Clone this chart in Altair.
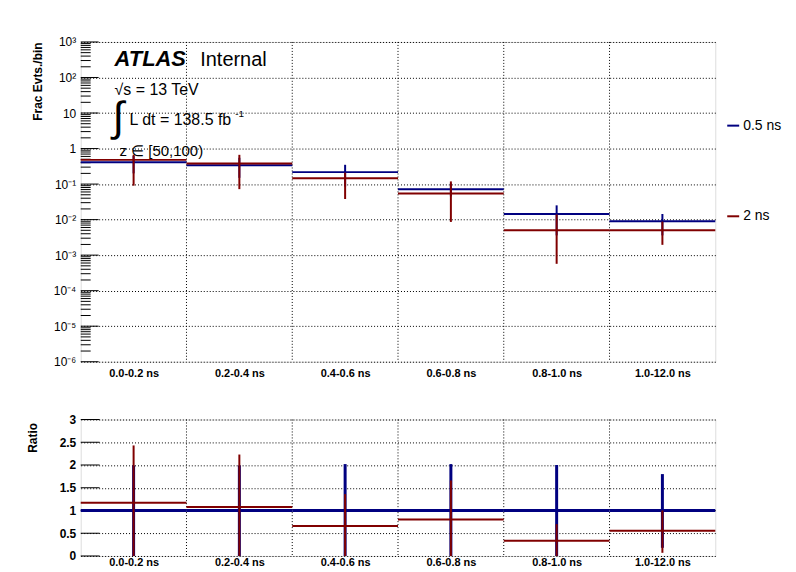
import json
import altair as alt
import pandas as pd

FONT = "Liberation Sans"

# ---------------- data ----------------
bins = ["0.0-0.2 ns", "0.2-0.4 ns", "0.4-0.6 ns", "0.6-0.8 ns", "0.8-1.0 ns", "1.0-12.0 ns"]
series_names = ["0.5 ns", "2 ns"]
series_colors = ["#000080", "#800000"]

blue_frac = [0.41, 0.34, 0.217, 0.072, 0.0144, 0.00898]
blue_frac_lo = [0.20, 0.15, 0.085, 0.045, 0.0036, 0.0036]
blue_frac_hi = [0.62, 0.55, 0.349, 0.105, 0.0252, 0.0144]
red_frac = [0.48, 0.38, 0.147, 0.0547, 0.00502, 0.00502]
red_frac_lo = [0.09, 0.072, 0.038, 0.0086, 0.00057, 0.00195]
red_frac_hi = [0.666, 0.666, 0.21, 0.119, 0.014, 0.0088]

blue_ratio = [1, 1, 1, 1, 1, 1]
blue_ratio_lo = [0, 0, 0, 0, 0, 0.18]
blue_ratio_hi = [1.99, 1.99, 2.02, 2.02, 2.0, 1.80]
red_ratio = [1.17, 1.075, 0.66, 0.80, 0.336, 0.555]
red_ratio_lo = [0, 0, 0, 0, 0, 0.07]
red_ratio_hi = [2.43, 2.23, 1.36, 1.66, 0.70, 1.0]

y_exponents = [-6, -5, -4, -3, -2, -1, 0, 1, 2, 3]
y_tick_labels = ["10⁻⁶", "10⁻⁵", "10⁻⁴", "10⁻³", "10⁻²", "10⁻¹", "1", "10", "10²", "10³"]
minor_mult = [2, 3, 4, 5, 6, 7, 8, 9]
ratio_ticks = [0, 0.5, 1, 1.5, 2, 2.5, 3]
ratio_tick_labels = ["0", "0.5", "1", "1.5", "2", "2.5", "3"]

n = len(bins)
centers = [i + 0.5 for i in range(n)]
edges = list(range(1, n))


def frame(vals, lo, hi, name):
    return pd.DataFrame({
        "x0": list(range(n)), "x1": list(range(1, n + 1)), "xc": centers,
        "val": vals, "lo": lo, "hi": hi, "series": name,
    })


top_blue = frame(blue_frac, blue_frac_lo, blue_frac_hi, series_names[0])
top_red = frame(red_frac, red_frac_lo, red_frac_hi, series_names[1])
rat_blue = frame(blue_ratio, blue_ratio_lo, blue_ratio_hi, series_names[0])
rat_red = frame(red_ratio, red_ratio_lo, red_ratio_hi, series_names[1])

edges_df = pd.DataFrame({"e": edges})
major_df = pd.DataFrame({"v": [10.0 ** e for e in y_exponents]})
minor_df = pd.DataFrame({"v": [m * 10.0 ** e for e in y_exponents[:-1] for m in minor_mult]})
ratio_tick_df = pd.DataFrame({"v": ratio_ticks})
one = pd.DataFrame({"a": [0]})

W = 637
H_TOP = 321
H_BOT = 137

# ---------------- scales / axes ----------------
x_scale = alt.Scale(domain=[0, n], nice=False, zero=False)
x_label_expr = json.dumps(bins) + "[floor(datum.value)]"


def x_axis(pad):
    return alt.Axis(values=centers, labelExpr=x_label_expr, ticks=False, domain=False,
                    grid=False, labelFont=FONT, labelFontSize=11, labelFontWeight="bold",
                    labelColor="black", labelPadding=pad, labelOverlap=False,
                    labelFlush=False, title=None)


x_axis_top = x_axis(6)
x_axis_bot = x_axis(1)

y_scale_top = alt.Scale(type="log", domain=[1e-6, 1e3], nice=False)
y_axis_top = alt.Axis(values=[10.0 ** e for e in y_exponents],
                      labelExpr=json.dumps(y_tick_labels, ensure_ascii=False)
                      + "[round(log(datum.value)/LN10)+6]",
                      labelOverlap=False, labelFlush=False, ticks=False, domain=False,
                      grid=True, gridColor="black", gridDash=[1, 2], gridOpacity=1,
                      labelFont=FONT, labelFontSize=12, labelColor="black", labelPadding=5,
                      title="Frac Evts./bin", titleFont=FONT, titleFontSize=12,
                      titleFontWeight="bold", titleColor="black", titleX=-36, titleY=0,
                      titleAlign="right", titleBaseline="bottom", titleAngle=270)

y_scale_bot = alt.Scale(domain=[0, 3], nice=False, zero=False)
y_axis_bot = alt.Axis(values=ratio_ticks,
                      labelExpr=json.dumps(ratio_tick_labels) + "[round(datum.value*2)]",
                      labelOverlap=False, labelFlush=False, ticks=False, domain=False,
                      grid=True, gridColor="black", gridDash=[1, 2], gridOpacity=1,
                      labelFont=FONT, labelFontSize=12, labelFontWeight="bold",
                      labelColor="black", labelPadding=5,
                      title="Ratio", titleFont=FONT, titleFontSize=12,
                      titleFontWeight="bold", titleColor="black", titleX=-41, titleY=3,
                      titleAlign="right", titleBaseline="bottom", titleAngle=270)

legend = alt.Legend(orient="none", legendX=648, legendY=77, title=None,
                    symbolType="stroke", symbolSize=144, symbolStrokeWidth=2,
                    labelFont=FONT, labelFontSize=14, labelColor="black",
                    labelOffset=3, rowPadding=77, padding=0)
color_enc = alt.Color("series:N", scale=alt.Scale(domain=series_names, range=series_colors),
                      legend=legend)


def XT(f):
    return alt.X(f, scale=x_scale, axis=x_axis_top, title=None)


def XB(f):
    return alt.X(f, scale=x_scale, axis=x_axis_bot, title=None)


def YT(f):
    return alt.Y(f, scale=y_scale_top, axis=y_axis_top, title="Frac Evts./bin")


def YB(f):
    return alt.Y(f, scale=y_scale_bot, axis=y_axis_bot, title="Ratio")


# ---------------- top panel ----------------
t_grid = alt.Chart(edges_df).mark_rule(color="black", strokeWidth=1, strokeDash=[1, 2]).encode(
    x=XT("e:Q"))
t_major = alt.Chart(major_df).mark_rule(color="black", strokeWidth=1).encode(
    y=YT("v:Q"), x=alt.value(0), x2=alt.value(18))
t_minor = alt.Chart(minor_df).mark_rule(color="black", strokeWidth=1).encode(
    y=YT("v:Q"), x=alt.value(0), x2=alt.value(10))


def top_series(df):
    err = alt.Chart(df).mark_rule(strokeWidth=2).encode(
        x=XT("xc:Q"), y=YT("lo:Q"), y2="hi:Q", color=color_enc)
    hor = alt.Chart(df).mark_rule(strokeWidth=2).encode(
        x=XT("x0:Q"), x2="x1:Q", y=YT("val:Q"), color=color_enc)
    return [err, hor]


def txt(text, x, y, size, weight="normal", style="normal", font=FONT, baseline="alphabetic"):
    return alt.Chart(one).mark_text(text=text, font=font, fontSize=size, fontWeight=weight,
                                    fontStyle=style, align="left", baseline=baseline,
                                    color="black").encode(x=alt.value(x), y=alt.value(y))


texts = [
    txt("ATLAS", 34, 24, 22, weight="bold", style="italic"),
    txt("Internal", 120, 24, 20),
    txt("√s = 13 TeV", 34, 53, 16),
    txt("∫", 32, 76, 42, baseline="middle"),
    txt("L dt = 138.5 fb", 49, 83, 16),
    txt("-1", 155, 75, 10),
    txt("z ∈ [50,100)", 39, 114, 15),
]

top = alt.layer(t_grid, t_major, t_minor, *top_series(top_blue), *top_series(top_red),
                *texts).properties(width=W, height=H_TOP)

# ---------------- ratio panel ----------------
b_grid = alt.Chart(edges_df).mark_rule(color="black", strokeWidth=1, strokeDash=[1, 2]).encode(
    x=XB("e:Q"))
b_ticks = alt.Chart(ratio_tick_df).mark_rule(color="black", strokeWidth=1).encode(
    y=YB("v:Q"), x=alt.value(0), x2=alt.value(19))


def bot_series(df, col, w_err, w_hor):
    err = alt.Chart(df).mark_rule(strokeWidth=w_err, color=col).encode(
        x=XB("xc:Q"), y=YB("lo:Q"), y2="hi:Q")
    hor = alt.Chart(df).mark_rule(strokeWidth=w_hor, color=col).encode(
        x=XB("x0:Q"), x2="x1:Q", y=YB("val:Q"))
    return [err, hor]


bottom = alt.layer(b_grid, b_ticks,
                   *bot_series(rat_blue, series_colors[0], 3, 3),
                   *bot_series(rat_red, series_colors[1], 2, 2)).properties(width=W, height=H_BOT)

chart = alt.vconcat(top, bottom, spacing=33).resolve_scale(
    color="independent").resolve_legend(color="independent").properties(
    padding={"left": 18, "top": 26, "right": 5, "bottom": 5}
).configure_view(stroke="black", strokeWidth=1).configure(background="white")

chart.save("out.html", embed_options={"renderer": "svg", "actions": False})
